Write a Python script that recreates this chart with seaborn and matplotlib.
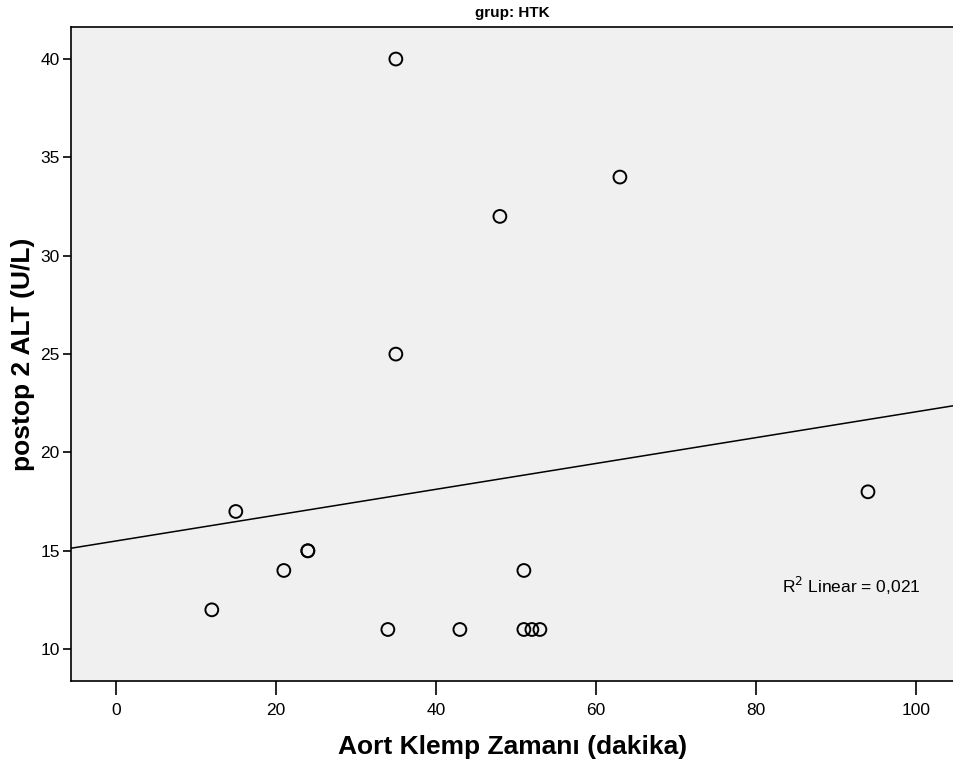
import numpy as np
import pandas as pd
import matplotlib.pyplot as plt
import seaborn as sns

# veri: Aort klemp zamani ve postop 2 ALT (grup HTK)
klemp = [35, 63, 48, 35, 94, 15, 24, 24, 21, 51, 12, 34, 43, 51, 52, 53]
alt = [40, 34, 32, 25, 18, 17, 15, 15, 14, 14, 12, 11, 11, 11, 11, 11]

data = pd.DataFrame({'klemp': klemp, 'alt': alt})

sns.set_style('white')
plt.rcParams['font.family'] = ['Liberation Sans', 'DejaVu Sans']
plt.rcParams['text.color'] = 'black'
plt.rcParams['axes.labelcolor'] = 'black'
plt.rcParams['xtick.color'] = 'black'
plt.rcParams['ytick.color'] = 'black'

fig = plt.figure(figsize=(9.54, 7.62), dpi=100)
ax = fig.add_axes([0.0744, 0.106, 0.9256, 0.8586])
ax.set_facecolor('#f0f0f0')
ax.set_xlim(-5.6, 104.75)
ax.set_ylim(8.37, 41.63)

sns.regplot(x='klemp', y='alt', data=data, ax=ax, ci=None, truncate=False,
            scatter_kws={'s': 85, 'facecolors': 'none', 'edgecolors': 'black',
                         'linewidths': 1.4, 'alpha': 1},
            line_kws={'color': 'black', 'linewidth': 1.1})

r = np.corrcoef(klemp, alt)[0, 1]
ax.text(83.3, 13.2, 'R$^2$ Linear = ' + f'{r**2:.3f}'.replace('.', ','),
        fontsize=12.5, ha='left', va='center')

ax.set_xticks([0, 20, 40, 60, 80, 100])
ax.set_yticks([10, 15, 20, 25, 30, 35, 40])
ax.tick_params(axis='x', direction='out', length=10, width=1.2, pad=6, labelsize=12.5, bottom=True)
ax.tick_params(axis='y', direction='out', length=6, width=1.2, pad=2, labelsize=12.5, left=True)
for s in ax.spines.values():
    s.set_color('black')
    s.set_linewidth(1.2)

ax.set_xlabel('Aort Klemp Zamanı (dakika)', fontsize=19, fontweight='bold', labelpad=12)
ax.set_ylabel('postop 2 ALT (U/L)', fontsize=19, fontweight='bold', labelpad=4)
ax.set_title('grup: HTK', fontsize=11, fontweight='bold', pad=7)

plt.savefig('out.png', dpi=100)
